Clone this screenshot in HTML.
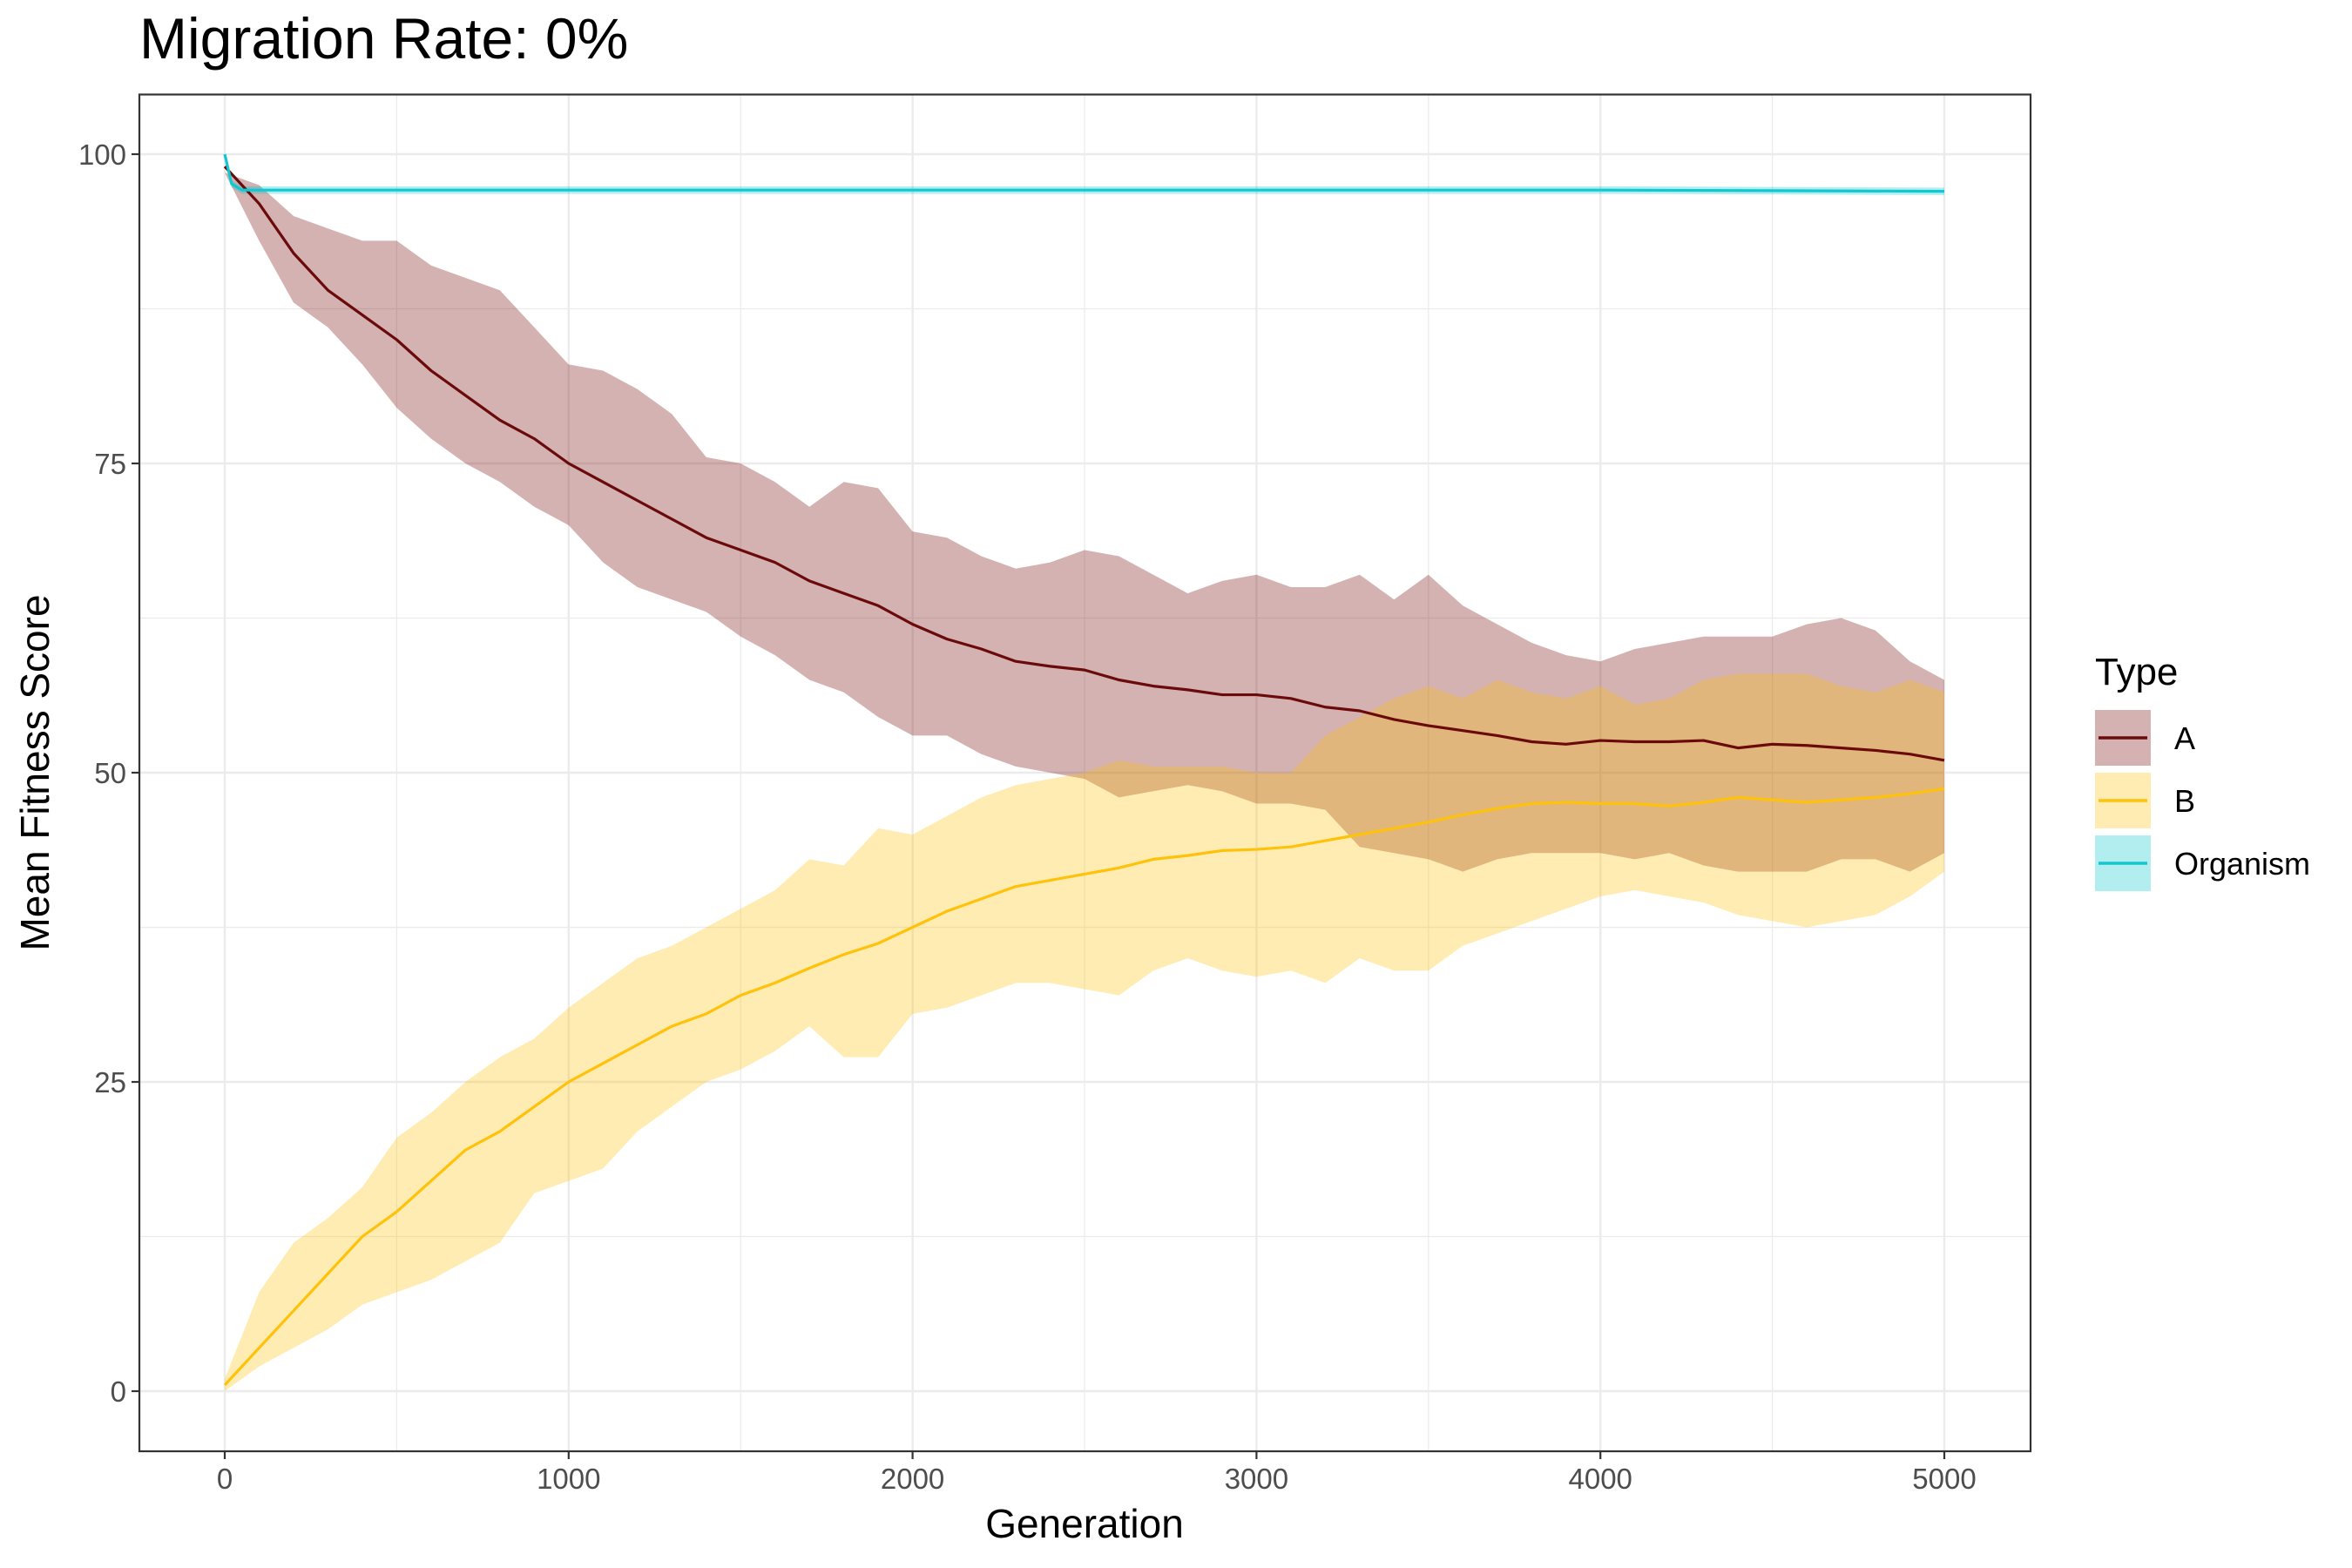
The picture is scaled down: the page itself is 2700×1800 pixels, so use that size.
<!DOCTYPE html>
<html><head><meta charset="utf-8"><style>
html,body{margin:0;padding:0;background:#fff;}
svg{display:block;font-family:"Liberation Sans",Arial,sans-serif;}
</style></head><body>
<svg id="chart" width="2700" height="1800" viewBox="0 0 2700 1800" xmlns="http://www.w3.org/2000/svg">
<rect width="2700" height="1800" fill="#fff"/>
<text x="160" y="67" font-size="66" fill="#000">Migration Rate: 0%</text>
<g id="grid"></g>
<g id="marks"></g>
<rect x="160" y="108.5" width="2171" height="1557.5" fill="none" stroke="#333" stroke-width="2.2"/>
<g id="axes"></g>
<text x="1245" y="1765" font-size="46" text-anchor="middle" fill="#000">Generation</text>
<text x="56" y="887" font-size="46" text-anchor="middle" fill="#000" transform="rotate(-90 56 887)">Mean Fitness Score</text>
<g>
<text x="2405" y="786" font-size="44" fill="#000">Type</text>
<g>
<rect x="2405" y="815" width="64" height="64" fill="#6f0000" fill-opacity="0.3"/>
<line x1="2409" x2="2465" y1="847" y2="847" stroke="#6b0a0a" stroke-width="3.5"/>
<text x="2496" y="860" font-size="36" fill="#000">A</text></g>
<g>
<rect x="2405" y="887" width="64" height="64" fill="#ffc000" fill-opacity="0.3"/>
<line x1="2409" x2="2465" y1="919" y2="919" stroke="#ffc20a" stroke-width="3.5"/>
<text x="2496" y="932" font-size="36" fill="#000">B</text></g>
<g>
<rect x="2405" y="959" width="64" height="64" fill="#00c5cd" fill-opacity="0.3"/>
<line x1="2409" x2="2465" y1="991" y2="991" stroke="#10c8d0" stroke-width="3.5"/>
<text x="2496" y="1004" font-size="36" fill="#000">Organism</text></g>
</g>
</svg>
<script>
const generations=[0,100,200,300,400,500,600,700,800,900,1000,1100,1200,1300,1400,1500,1600,1700,1800,1900,2000,2100,2200,2300,2400,2500,2600,2700,2800,2900,3000,3100,3200,3300,3400,3500,3600,3700,3800,3900,4000,4100,4200,4300,4400,4500,4600,4700,4800,4900,5000];
const aMean=[99,96,92,89,87,85,82.5,80.5,78.5,77,75,73.5,72,70.5,69,68,67,65.5,64.5,63.5,62,60.8,60,59,58.6,58.3,57.5,57,56.7,56.3,56.3,56,55.3,55,54.3,53.8,53.4,53,52.5,52.3,52.6,52.5,52.5,52.6,52,52.3,52.2,52,51.8,51.5,51];
const aUpper=[98.5,97.5,95,94,93,93,91,90,89,86,83,82.5,81,79,75.5,75,73.5,71.5,73.5,73,69.5,69,67.5,66.5,67,68,67.5,66,64.5,65.5,66,65,65,66,64,66,63.5,62,60.5,59.5,59,60,60.5,61,61,61,62,62.5,61.5,59,57.5];
const aLower=[98.5,93,88,86,83,79.5,77,75,73.5,71.5,70,67,65,64,63,61,59.5,57.5,56.5,54.5,53,53,51.5,50.5,50,49.5,48,48.5,49,48.5,47.5,47.5,47,44,43.5,43,42,43,43.5,43.5,43.5,43,43.5,42.5,42,42,42,43,43,42,43.5];
const bMean=[0.5,3.5,6.5,9.5,12.5,14.5,17,19.5,21,23,25,26.5,28,29.5,30.5,32,33,34.2,35.3,36.2,37.5,38.8,39.8,40.8,41.3,41.8,42.3,43,43.3,43.7,43.8,44,44.5,45,45.5,46,46.6,47.1,47.5,47.6,47.5,47.5,47.3,47.6,48,47.8,47.6,47.8,48,48.3,48.7];
const bUpper=[1,8,12,14,16.5,20.5,22.5,25,27,28.5,31,33,35,36,37.5,39,40.5,43,42.5,45.5,45,46.5,48,49,49.5,50,51,50.5,50.5,50.5,50,50,53,54.5,56,57,56,57.5,56.5,56,57,55.5,56,57.5,58,58,58,57,56.5,57.5,56.5];
const bLower=[0,2,3.5,5,7,8,9,10.5,12,16,17,18,21,23,25,26,27.5,29.5,27,27,30.5,31,32,33,33,32.5,32,34,35,34,33.5,34,33,35,34,34,36,37,38,39,40,40.5,40,39.5,38.5,38,37.5,38,38.5,40,42];
const orgGen=[0,20,50,1000,2000,3000,4000,5000];
const orgMean=[100,97.6,97.1,97.1,97.1,97.1,97.1,97.0];
const orgUpper=[100,97.9,97.4,97.4,97.4,97.4,97.4,97.3];
const orgLower=[100,97.3,96.8,96.8,96.8,96.8,96.8,96.7];
const xTicks=[0,1000,2000,3000,4000,5000];
const yTicks=[0,25,50,75,100];
const xMinor=[500,1500,2500,3500,4500];
const yMinor=[12.5,37.5,62.5,87.5];

const PL=160,PR=2331,PT=108.5,PB=1666;
const X0=258,X1=2232,Y0=1597,Y1=177;
function sx(v){return X0+(X1-X0)*v/5000;}
function sy(v){return Y0-(Y0-Y1)*v/100;}
const NS='http://www.w3.org/2000/svg';
function mk(tag,attrs,parent){const e=document.createElementNS(NS,tag);for(const k in attrs)e.setAttribute(k,attrs[k]);parent.appendChild(e);return e;}
const grid=document.getElementById('grid'),marks=document.getElementById('marks'),axes=document.getElementById('axes');
xMinor.forEach(v=>{const l=mk('line',{x1:sx(v),x2:sx(v),y1:PT,y2:PB,stroke:'#ebebeb','stroke-width':1.2},grid);

});
yMinor.forEach(v=>{const l=mk('line',{x1:PL,x2:PR,y1:sy(v),y2:sy(v),stroke:'#ebebeb','stroke-width':1.2},grid);

});
xTicks.forEach(v=>{const l=mk('line',{x1:sx(v),x2:sx(v),y1:PT,y2:PB,stroke:'#ebebeb','stroke-width':2.4},grid);


const t=mk('line',{x1:sx(v),x2:sx(v),y1:PB,y2:PB+9,stroke:'#333','stroke-width':2.2},axes);


const tx=mk('text',{x:sx(v),y:PB+43,'font-size':33,'text-anchor':'middle',fill:'#4d4d4d'},axes);tx.textContent=v;

});
yTicks.forEach(v=>{const l=mk('line',{x1:PL,x2:PR,y1:sy(v),y2:sy(v),stroke:'#ebebeb','stroke-width':2.4},grid);


const t=mk('line',{x1:PL-9,x2:PL,y1:sy(v),y2:sy(v),stroke:'#333','stroke-width':2.2},axes);


const tx=mk('text',{x:PL-15,y:sy(v)+12,'font-size':33,'text-anchor':'end',fill:'#4d4d4d'},axes);tx.textContent=v;

});
function ribbon(gs,lo,hi,color,name){let d='';gs.forEach((g,i)=>{d+=(i?'L':'M')+sx(g)+','+sy(hi[i]);});
for(let i=gs.length-1;i>=0;i--)d+='L'+sx(gs[i])+','+sy(lo[i]);d+='Z';
const p=mk('path',{d:d,fill:color,'fill-opacity':0.3,stroke:'none'},marks);

}
function line(gs,vals,color,name){const p=mk('polyline',{points:gs.map((g,i)=>sx(g)+','+sy(vals[i])).join(' '),fill:'none',stroke:color,'stroke-width':3.2,'stroke-linejoin':'round'},marks);

}
ribbon(generations,aLower,aUpper,'#6f0000','ribbon-a');
ribbon(generations,bLower,bUpper,'#ffc000','ribbon-b');
ribbon(orgGen,orgLower,orgUpper,'#00c5cd','ribbon-organism');
line(generations,aMean,'#6b0a0a','line-a');
line(generations,bMean,'#ffc20a','line-b');
line(orgGen,orgMean,'#10c8d0','line-organism');
</script>
</body></html>
